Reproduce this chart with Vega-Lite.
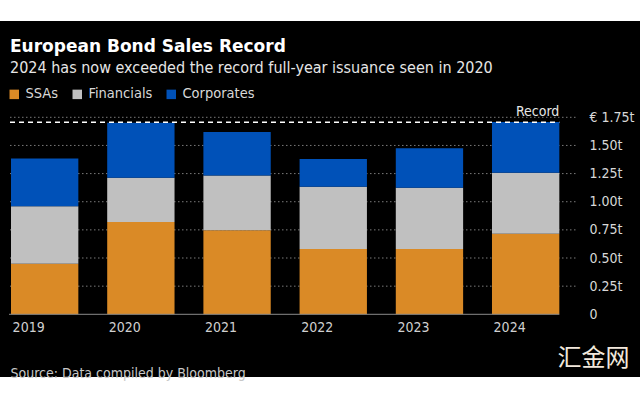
{
  "$schema": "https://vega.github.io/schema/vega-lite/v6.json",
  "width": 640,
  "height": 356,
  "autosize": {"type": "none"},
  "padding": {"top": 21, "left": 0, "right": 0, "bottom": 23},
  "background": "#ffffff",
  "title": {
    "text": "European Bond Sales Record",
    "subtitle": "2024 has now exceeded the record full-year issuance seen in 2020",
    "anchor": "start",
    "frame": "group",
    "offset": -56,
    "dx": 10,
    "font": "DejaVu Sans",
    "fontWeight": "bold",
    "fontSize": 17,
    "color": "#ffffff",
    "subtitleFont": "DejaVu Sans Condensed",
    "subtitleFontSize": 16,
    "subtitleColor": "#e6e6e6",
    "subtitlePadding": 4
  },
  "datasets": {
    "bonds": [
      {"year": "2019", "type": "SSAs", "value": 0.45},
      {"year": "2019", "type": "Financials", "value": 0.51},
      {"year": "2019", "type": "Corporates", "value": 0.425},
      {"year": "2020", "type": "SSAs", "value": 0.82},
      {"year": "2020", "type": "Financials", "value": 0.393},
      {"year": "2020", "type": "Corporates", "value": 0.489},
      {"year": "2021", "type": "SSAs", "value": 0.746},
      {"year": "2021", "type": "Financials", "value": 0.488},
      {"year": "2021", "type": "Corporates", "value": 0.385},
      {"year": "2022", "type": "SSAs", "value": 0.58},
      {"year": "2022", "type": "Financials", "value": 0.554},
      {"year": "2022", "type": "Corporates", "value": 0.246},
      {"year": "2023", "type": "SSAs", "value": 0.58},
      {"year": "2023", "type": "Financials", "value": 0.545},
      {"year": "2023", "type": "Corporates", "value": 0.35},
      {"year": "2024", "type": "SSAs", "value": 0.716},
      {"year": "2024", "type": "Financials", "value": 0.541},
      {"year": "2024", "type": "Corporates", "value": 0.451}
    ],
    "grid": [
      {"g": 0.25}, {"g": 0.5}, {"g": 0.75}, {"g": 1.0}, {"g": 1.25}, {"g": 1.5}, {"g": 1.75}
    ],
    "record": [{"record": 1.705, "label": "Record"}]
  },
  "layer": [
    {
      "data": {"name": "grid"},
      "mark": {"type": "rule", "color": "#7a7a7a", "strokeDash": [1.5, 2.5], "strokeWidth": 1, "xOffset": -1, "x2Offset": 18},
      "encoding": {
        "x": {"datum": "2019", "type": "ordinal", "bandPosition": 0},
        "x2": {"datum": "2024", "bandPosition": 1},
        "y": {"field": "g", "type": "quantitative"}
      }
    },
    {
      "data": {"name": "bonds"},
      "mark": {"type": "bar"},
      "encoding": {
        "x": {
          "field": "year", "type": "ordinal",
          "scale": {"paddingInner": 0.3, "paddingOuter": 0.4765, "align": 0.12},
          "axis": {
            "orient": "bottom", "offset": -57, "domain": false, "ticks": false, "grid": false, "labelAngle": 0,
            "labelFont": "DejaVu Sans Condensed",
            "labelFontSize": 14, "labelColor": "#d0d0d0", "labelPadding": 7,
            "title": "Source: Data compiled by Bloomberg",
            "titleFont": "DejaVu Sans Condensed",
            "titleFontSize": 14, "titleFontWeight": "normal", "titleColor": "#c8c8c8",
            "titleAnchor": "start", "titleAlign": "left", "titleBaseline": "alphabetic",
            "titleX": 10, "titleY": 57
          }
        },
        "y": {
          "field": "value", "type": "quantitative", "stack": "zero",
          "scale": {"domain": [-0.557, 2.6055], "nice": false, "zero": false},
          "axis": {
            "orient": "right", "offset": -51, "values": [0, 0.25, 0.5, 0.75, 1, 1.25, 1.5, 1.75],
            "labelExpr": "datum.value == 1.75 ? '€ 1.75t' : datum.value == 0 ? '0' : format(datum.value, '.2f') + 't'",
            "domain": false, "ticks": false, "grid": false, "labelPadding": 0,
            "labelFont": "DejaVu Sans Condensed",
            "labelFontSize": 14, "labelColor": "#d8d8d8", "labelAlign": "left", "labelBaseline": "middle",
            "title": "汇金网", "titleAngle": 0, "titleFont": "Noto Sans CJK SC", "titleFontSize": 24,
            "titleFontWeight": "normal", "titleColor": "#f2e8dc", "titleAlign": "left", "titleBaseline": "middle",
            "titleX": -32, "titleY": 337
          }
        },
        "color": {
          "field": "type", "type": "nominal",
          "sort": ["SSAs", "Financials", "Corporates"],
          "scale": {"domain": ["SSAs", "Financials", "Corporates"], "range": ["#da8a26", "#c0c0c0", "#0051b8"]},
          "legend": {
            "title": null, "orient": "none", "legendX": 7, "legendY": 66, "direction": "horizontal",
            "symbolType": "square", "symbolSize": 90, "symbolStrokeWidth": 0, "symbolOpacity": 1,
            "labelFont": "DejaVu Sans Condensed",
            "labelFontSize": 14.5, "labelColor": "#d8d8d8", "labelOffset": 4, "columnPadding": 11
          }
        },
        "order": {"field": "type", "sort": "descending"}
      }
    },
    {
      "data": {"name": "record"},
      "mark": {"type": "rule", "color": "#8a8a8a", "strokeWidth": 1, "xOffset": -2},
      "encoding": {
        "x": {"datum": "2019", "type": "ordinal", "bandPosition": 0},
        "x2": {"datum": "2024", "bandPosition": 1},
        "y": {"datum": 0, "type": "quantitative"}
      }
    },
    {
      "data": {"name": "record"},
      "mark": {"type": "rule", "color": "#ffffff", "strokeWidth": 1.5, "strokeDash": [5, 4], "xOffset": -1},
      "encoding": {
        "x": {"datum": "2019", "type": "ordinal", "bandPosition": 0},
        "x2": {"datum": "2024", "bandPosition": 1},
        "y": {"field": "record", "type": "quantitative"}
      }
    },
    {
      "data": {"name": "record"},
      "mark": {"type": "text", "align": "right", "baseline": "bottom", "dy": -3, "color": "#e6e6e6",
               "font": "DejaVu Sans Condensed", "fontSize": 14},
      "encoding": {
        "x": {"datum": "2024", "type": "ordinal", "bandPosition": 1},
        "y": {"field": "record", "type": "quantitative"},
        "text": {"field": "label"}
      }
    }
  ],
  "config": {
    "view": {"fill": "#000000", "stroke": null}
  }
}
